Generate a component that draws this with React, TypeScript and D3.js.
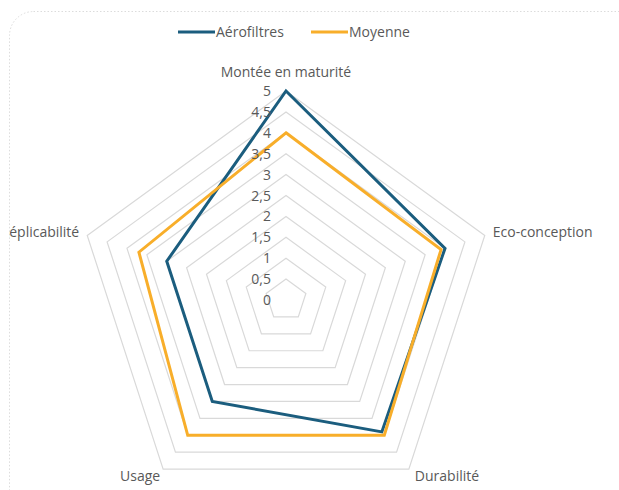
import React from "react";
import * as d3 from "d3";

const categories = ["Montée en maturité", "Eco-conception", "Durabilité", "Usage", "Réplicabilité"];
const seriesNames = ["Aérofiltres", "Moyenne"];
const aerofiltres = [5, 4, 3.9, 3, 3];
const moyenne = [4, 3.9, 4, 4, 3.7];
const ticks = [0, 0.5, 1, 1.5, 2, 2.5, 3, 3.5, 4, 4.5, 5];
const tickLabels = ["0", "0,5", "1", "1,5", "2", "2,5", "3", "3,5", "4", "4,5", "5"];

const COLORS = ["#1b5d7e", "#f8ae2a"];
const FONT = "'Open Sans', 'Noto Sans', sans-serif";
const TEXT = "#595959";

export default function App() {
  const W = 619, H = 490;
  const cx = 286, cy = 300;
  const r = d3.scaleLinear().domain([0, 5]).range([0, 209]);
  const n = categories.length;
  const ang = (i: number) => (i * 2 * Math.PI) / n;
  const pt = (i: number, v: number): [number, number] => [
    cx + r(v) * Math.sin(ang(i)),
    cy - r(v) * Math.cos(ang(i)),
  ];
  const line = d3.lineRadial<number>()
    .angle((_, i) => ang(i))
    .radius((d) => r(d))
    .curve(d3.curveLinearClosed);

  const ringLine = (v: number) => line(categories.map(() => v)) || "";

  // label placement offsets (layout)
  const labelOffsets: [number, number, string][] = [
    [0, -19, "middle"],
    [8, -3, "start"],
    [6, 7, "start"],
    [-3, 7, "end"],
    [-8, -3, "end"],
  ];

  const data = [aerofiltres, moyenne];

  return (
    <svg width={W} height={H} style={{ position: "absolute", left: 0, top: 0, background: "#fff" }} fontFamily={FONT}>
      <defs>
        <clipPath id="frame">
          <rect x={9} y={11} width={W} height={H} />
        </clipPath>
      </defs>
      <rect x={9.5} y={11.5} width={640} height={520} rx={24} fill="#fff" stroke="#dcdcdc" strokeDasharray="1.5 2" />
      {/* legend */}
      <g>
        <line x1={178} x2={215} y1={32} y2={32} stroke={COLORS[0]} strokeWidth={3} />
        <text x={216} y={37} fontSize={14} fill={TEXT}>{seriesNames[0]}</text>
        <line x1={311} x2={348} y1={32} y2={32} stroke={COLORS[1]} strokeWidth={3} />
        <text x={349} y={37} fontSize={14} fill={TEXT}>{seriesNames[1]}</text>
      </g>
      <g transform={`translate(${cx},${cy})`}>
        {ticks.slice(1).map((t) => (
          <path key={t} d={ringLine(t)} fill="none" stroke="#d9d9d9" strokeWidth={1.2} />
        ))}
      </g>
      <g transform={`translate(${cx},${cy})`}>
        {data.map((s, k) => (
          <path key={k} d={line(s) || ""} fill="none" stroke={COLORS[k]} strokeWidth={3} strokeLinejoin="miter" />
        ))}
      </g>
      {ticks.map((t, i) => (
        <text key={t} x={cx - 15} y={cy - r(t) + 5} fontSize={14} fill={TEXT} textAnchor="end">
          {tickLabels[i]}
        </text>
      ))}
      <g clipPath="url(#frame)">
        {categories.map((c, i) => {
          const [x, y] = pt(i, 5);
          const [dx, dy, anchor] = labelOffsets[i];
          return (
            <text key={c} x={x + dx} y={y + dy + 5} fontSize={14} fill={TEXT} textAnchor={anchor as any}>
              {c}
            </text>
          );
        })}
      </g>
    </svg>
  );
}
